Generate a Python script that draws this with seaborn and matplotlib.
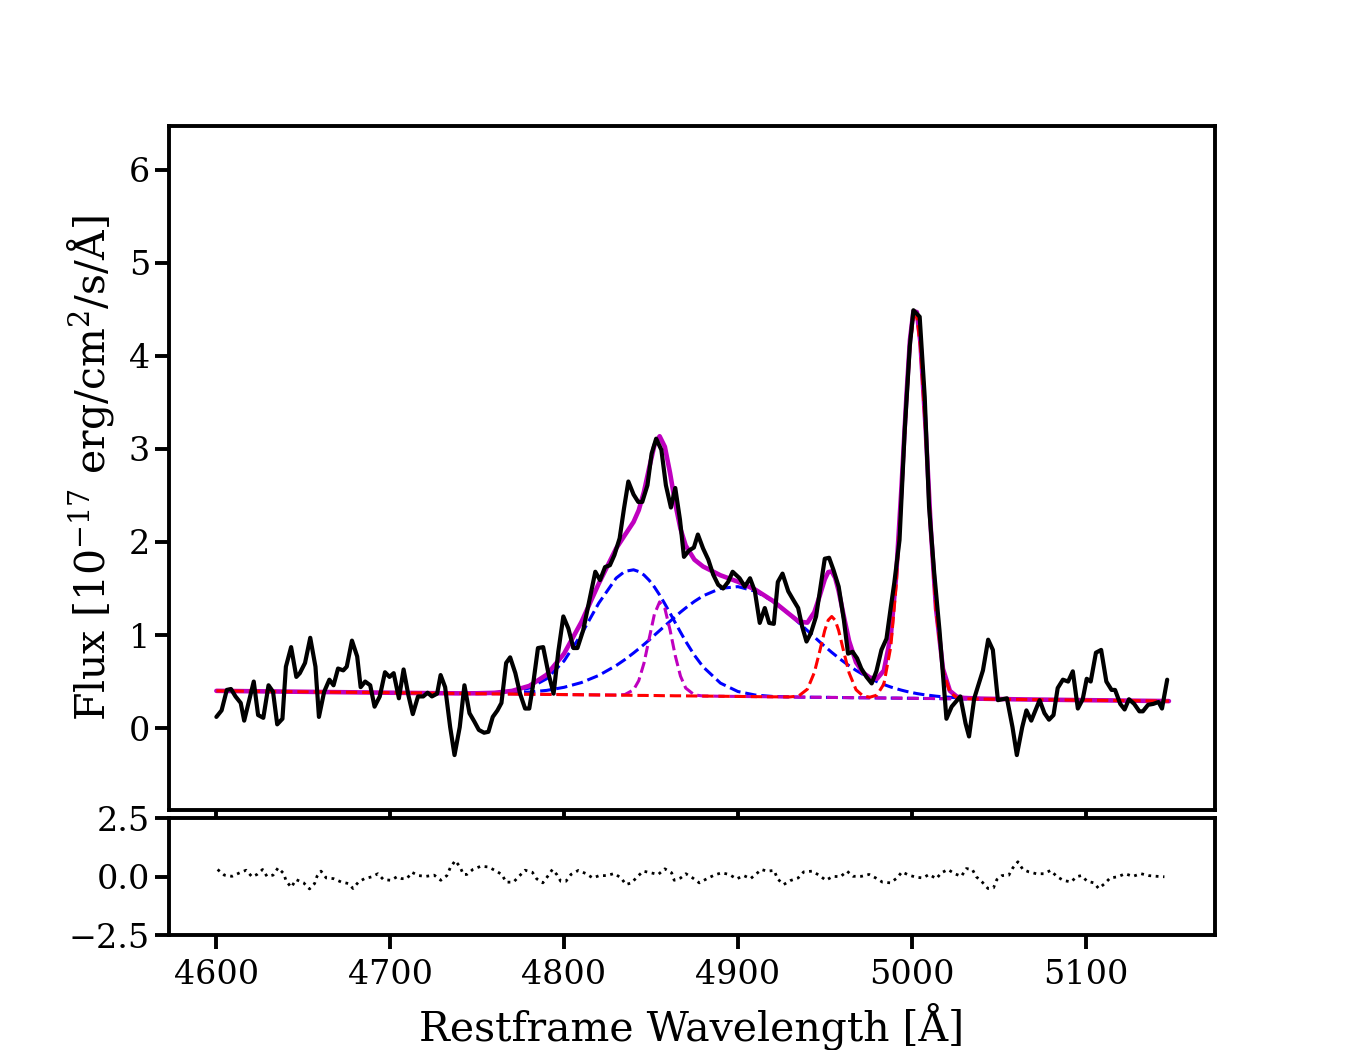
import numpy as np
import pandas as pd
import matplotlib
matplotlib.use("Agg")
import matplotlib.pyplot as plt
import seaborn as sns

wave = [4600, 4603, 4606, 4608.4, 4611, 4614, 4616, 4621.5, 4624, 4627, 4630, 4632.6, 4635, 4638,
        4640, 4643, 4646, 4648, 4651, 4654, 4657, 4659, 4662, 4665, 4667.4, 4670, 4673, 4675,
        4678, 4681, 4683, 4685.6, 4688.5, 4691, 4694, 4697, 4699.6, 4702, 4705, 4707.7, 4710.5,
        4713, 4716, 4719, 4721.5, 4724, 4727, 4729, 4731.6, 4734.5, 4737, 4740, 4742.7, 4745.6,
        4748.4, 4751, 4754, 4756.5, 4759, 4761.7, 4764, 4766.7, 4769, 4772, 4774.7, 4777.6, 4780,
        4782, 4785, 4788, 4791, 4794, 4796.7, 4799.6, 4802.5, 4805.4, 4807.7, 4811, 4815, 4818,
        4820.7, 4823.6, 4826.4, 4829, 4832, 4834.5, 4837, 4840, 4842.7, 4845, 4848, 4850.4, 4853,
        4856, 4858.6, 4861.5, 4864, 4866.7, 4869, 4872, 4874.7, 4877, 4880, 4883, 4885.8, 4888.7,
        4891.5, 4894.4, 4897, 4901, 4904, 4907, 4909.8, 4912.6, 4915.5, 4918, 4920.7, 4923,
        4925.7, 4929, 4931.8, 4934.7, 4937, 4939.5, 4942, 4945, 4948, 4950, 4952.5, 4955, 4958,
        4961, 4963.4, 4966, 4968.6, 4971, 4974, 4977, 4979.7, 4982.6, 4985.5, 4988, 4990, 4993,
        4996, 4998.9, 5001, 5004.6, 5007.5, 5010, 5013, 5016, 5020, 5023, 5028, 5031, 5033, 5036,
        5041, 5044, 5046.7, 5049.6, 5054.8, 5058, 5060.5, 5063.6, 5066, 5068.8, 5073.6, 5076.4,
        5079, 5081.6, 5084, 5087, 5090, 5092.7, 5095.6, 5098.4, 5100.7, 5103, 5106, 5109, 5112,
        5115, 5117, 5120, 5122.5, 5125, 5128, 5131, 5133, 5136, 5139, 5142, 5144, 5147]
flux = [0.12, 0.19, 0.41, 0.42, 0.34, 0.27, 0.08, 0.50, 0.14, 0.11, 0.46, 0.39, 0.04, 0.10,
        0.66, 0.87, 0.55, 0.59, 0.70, 0.97, 0.66, 0.12, 0.39, 0.52, 0.46, 0.64, 0.62, 0.66,
        0.94, 0.77, 0.44, 0.50, 0.46, 0.23, 0.34, 0.60, 0.55, 0.59, 0.32, 0.63, 0.35,
        0.15, 0.34, 0.34, 0.38, 0.34, 0.37, 0.57, 0.44, 0.01, -0.29, 0.01, 0.46, 0.16,
        0.07, -0.02, -0.05, -0.04, 0.12, 0.19, 0.27, 0.70, 0.76, 0.59, 0.37, 0.21, 0.21,
        0.44, 0.86, 0.87, 0.59, 0.37, 0.82, 1.20, 1.07, 0.86, 0.86, 1.05, 1.41, 1.68,
        1.59, 1.73, 1.75, 1.86, 2.04, 2.36, 2.65, 2.51, 2.43, 2.43, 2.61, 2.95, 3.11,
        2.99, 2.61, 2.37, 2.58, 2.24, 1.84, 1.91, 1.94, 2.08, 1.93, 1.81, 1.65, 1.54,
        1.50, 1.57, 1.68, 1.61, 1.52, 1.61, 1.47, 1.13, 1.29, 1.13, 1.12, 1.57,
        1.66, 1.47, 1.38, 1.29, 1.09, 0.93, 1.02, 1.20, 1.57, 1.82, 1.83, 1.70, 1.52,
        1.16, 0.80, 0.82, 0.75, 0.64, 0.55, 0.48, 0.61, 0.84, 0.96, 1.30, 1.56, 2.02,
        3.20, 4.10, 4.49, 4.42, 3.56, 2.38, 1.66, 1.05, 0.10, 0.23, 0.34, 0.05, -0.09, 0.32,
        0.62, 0.95, 0.84, 0.30, 0.32, 0.01, -0.29, 0.01, 0.19, 0.08, 0.30, 0.16,
        0.09, 0.14, 0.43, 0.52, 0.50, 0.61, 0.21, 0.31, 0.53, 0.50, 0.81, 0.84, 0.50,
        0.41, 0.41, 0.26, 0.20, 0.31, 0.26, 0.18, 0.18, 0.25, 0.26, 0.28, 0.21, 0.52]

# fitted model components on a common wavelength grid
model_wave = [4600, 4650, 4700, 4720, 4740, 4750, 4760, 4770, 4780, 4790, 4800, 4810, 4820,
              4830, 4835, 4840, 4843, 4846, 4849, 4852, 4855, 4858, 4861, 4864, 4867, 4870,
              4875, 4880, 4890, 4900, 4910, 4920, 4930, 4935, 4940, 4944, 4947, 4950, 4952,
              4954, 4956, 4958, 4961, 4964, 4968, 4972, 4976, 4980, 4984, 4988, 4991, 4994,
              4997, 4999, 5001, 5003, 5005, 5008, 5011, 5014, 5018, 5022, 5026, 5030, 5040,
              5060, 5100, 5148]
model_total = [0.400, 0.390, 0.380, 0.376, 0.373, 0.374, 0.379, 0.399, 0.453, 0.573, 0.799,
               1.140, 1.553, 1.931, 2.074, 2.215, 2.342, 2.540, 2.798, 3.038, 3.136, 3.023,
               2.741, 2.412, 2.141, 1.961, 1.810, 1.736, 1.642, 1.573, 1.488, 1.369, 1.219,
               1.145, 1.133, 1.245, 1.415, 1.598, 1.676, 1.684, 1.614, 1.473, 1.198, 0.936,
               0.706, 0.595, 0.542, 0.529, 0.618, 0.996, 1.617, 2.542, 3.571, 4.170, 4.480,
               4.470, 4.150, 3.230, 2.144, 1.286, 0.637, 0.400, 0.338, 0.324, 0.316, 0.309,
               0.300, 0.290]
broad_hb1 = [0.400, 0.390, 0.380, 0.376, 0.372, 0.371, 0.374, 0.388, 0.430, 0.530, 0.721,
             1.009, 1.343, 1.612, 1.684, 1.701, 1.682, 1.645, 1.588, 1.516, 1.430, 1.335,
             1.235, 1.132, 1.031, 0.932, 0.783, 0.658, 0.483, 0.393, 0.355, 0.340, 0.335,
             0.333, 0.332, 0.331, 0.331, 0.330, 0.330, 0.329, 0.329, 0.328, 0.328, 0.327,
             0.326, 0.326, 0.325, 0.324, 0.323, 0.322, 0.322, 0.321, 0.321, 0.320, 0.320,
             0.319, 0.319, 0.318, 0.318, 0.317, 0.316, 0.316, 0.315, 0.314, 0.312, 0.308,
             0.300, 0.290]
broad_hb2 = [0.400, 0.390, 0.380, 0.376, 0.373, 0.372, 0.373, 0.377, 0.387, 0.405, 0.438,
             0.489, 0.566, 0.672, 0.736, 0.807, 0.852, 0.899, 0.947, 0.998, 1.048, 1.098,
             1.148, 1.197, 1.246, 1.291, 1.361, 1.421, 1.501, 1.520, 1.471, 1.365, 1.217,
             1.133, 1.048, 0.979, 0.928, 0.878, 0.846, 0.814, 0.784, 0.753, 0.711, 0.670,
             0.620, 0.576, 0.535, 0.499, 0.468, 0.441, 0.424, 0.408, 0.394, 0.386, 0.378,
             0.371, 0.365, 0.356, 0.350, 0.343, 0.336, 0.331, 0.326, 0.323, 0.316, 0.309,
             0.300, 0.290]
narrow_hb = [0.400, 0.390, 0.380, 0.376, 0.372, 0.370, 0.368, 0.366, 0.364, 0.362, 0.360,
             0.358, 0.356, 0.355, 0.360, 0.411, 0.510, 0.698, 0.963, 1.224, 1.356, 1.286,
             1.054, 0.777, 0.558, 0.430, 0.356, 0.345, 0.342, 0.340, 0.338, 0.336, 0.334,
             0.333, 0.332, 0.331, 0.331, 0.330, 0.330, 0.329, 0.329, 0.328, 0.328, 0.327,
             0.326, 0.326, 0.325, 0.324, 0.323, 0.322, 0.322, 0.321, 0.321, 0.320, 0.320,
             0.319, 0.319, 0.318, 0.318, 0.317, 0.316, 0.316, 0.315, 0.314, 0.312, 0.308,
             0.300, 0.290]
cont_oiii = [0.400, 0.390, 0.380, 0.376, 0.372, 0.370, 0.368, 0.366, 0.364, 0.362, 0.360,
             0.358, 0.356, 0.354, 0.353, 0.352, 0.351, 0.351, 0.350, 0.350, 0.349, 0.348,
             0.348, 0.347, 0.347, 0.346, 0.345, 0.344, 0.342, 0.340, 0.338, 0.336, 0.335,
             0.345, 0.418, 0.597, 0.818, 1.050, 1.160, 1.199, 1.159, 1.048, 0.815, 0.593,
             0.412, 0.345, 0.332, 0.354, 0.473, 0.877, 1.515, 2.455, 3.498, 4.100, 4.420,
             4.420, 4.100, 3.190, 2.112, 1.260, 0.617, 0.385, 0.326, 0.315, 0.312, 0.308,
             0.300, 0.290]

# residuals (model - data)
res_wave = [4600.7, 4604.6, 4609.0, 4613.4, 4617.1, 4620.5, 4623.4, 4626.6, 4629.1, 4632.6,
            4635.5, 4638.7, 4640.2, 4643.1, 4645.8, 4650.2, 4653.6, 4656.5, 4657.9, 4660.2,
            4663.2, 4667.4, 4671.7, 4676.0, 4678.6, 4681.8, 4685.2, 4689.5, 4692.9, 4696.1,
            4700.4, 4703.9, 4706.7, 4709.6, 4712.5, 4716.3, 4720.7, 4725.3, 4729.1, 4732.6,
            4734.5, 4737.4, 4740.2, 4742.1, 4744.1, 4747.5, 4752.1, 4756.5, 4760.3, 4764.2,
            4766.7, 4770.9, 4774.1, 4777.6, 4781.8, 4784.3, 4787.8, 4790.4, 4793.3, 4795.8,
            4798.1, 4801.1, 4804.0, 4808.2, 4812.5, 4816.5, 4820.3, 4824.5, 4828.9, 4832.8,
            4835.6, 4838.9, 4842.1, 4845.6, 4849.8, 4854.2, 4858.0, 4861.9, 4863.4, 4867.1,
            4870.1, 4874.0, 4877.8, 4882.0, 4886.4, 4890.6, 4895.0, 4899.3, 4903.4, 4907.3,
            4910.7, 4913.6, 4916.8, 4920.9, 4922.8, 4926.4, 4930.3, 4934.7, 4937.9, 4942.7,
            4946.7, 4950.6, 4954.8, 4959.0, 4962.8, 4966.3, 4971.1, 4975.5, 4979.3, 4983.2,
            4987.8, 4991.6, 4994.4, 4998.3, 5002.7, 5006.5, 5010.0, 5014.2, 5017.1, 5020.9,
            5024.7, 5028.6, 5031.4, 5034.9, 5037.2, 5040.6, 5043.9, 5047.1, 5049.0, 5051.9,
            5055.9, 5058.2, 5061.1, 5064.0, 5067.4, 5071.7, 5075.9, 5079.9, 5083.7, 5087.4,
            5091.8, 5094.7, 5097.5, 5101.0, 5104.8, 5107.6, 5110.9, 5114.2, 5118.6, 5122.8,
            5127.2, 5132.0, 5136.4, 5141.0, 5145.4]
resid = [0.30, 0.06, 0.01, 0.16, 0.27, -0.01, 0.09, 0.30, 0.01, 0.06,
         0.37, 0.13, -0.20, -0.46, -0.13, -0.27, -0.53, -0.30, 0.01, 0.23,
         -0.06, -0.09, -0.23, -0.30, -0.51, -0.23, -0.09, -0.01, 0.12, -0.13,
         -0.16, -0.01, -0.09, -0.09, 0.18, 0.04, 0.01, 0.06, -0.16, 0.04,
         0.37, 0.68, 0.41, 0.09, 0.09, 0.30, 0.44, 0.41, 0.26, 0.09,
         -0.24, -0.24, 0.01, 0.27, 0.18, -0.10, -0.27, -0.01, 0.30, 0.09,
         -0.20, -0.20, 0.09, 0.26, 0.13, -0.06, 0.04, 0.04, 0.13, -0.06,
         -0.34, -0.27, -0.01, 0.23, 0.16, 0.09, 0.33, 0.16, -0.16, -0.06,
         0.12, -0.06, -0.27, -0.10, 0.06, 0.16, 0.09, -0.10, 0.04, -0.09,
         0.12, 0.30, 0.23, 0.26, -0.10, -0.34, -0.17, -0.06, 0.20, 0.23,
         0.06, -0.16, 0.01, -0.01, 0.23, 0.01, 0.01, 0.09, -0.06, -0.24,
         -0.27, -0.06, 0.20, 0.06, -0.03, -0.06, 0.09, -0.09, 0.16, 0.30,
         0.12, 0.01, 0.34, 0.30, -0.01, -0.24, -0.51, -0.48, -0.13, 0.04,
         0.06, 0.37, 0.63, 0.30, 0.20, 0.12, 0.12, 0.26, -0.01, -0.17,
         -0.23, -0.01, 0.04, -0.20, -0.27, -0.51, -0.31, -0.06, -0.01, 0.12,
         0.01, 0.12, 0.04, 0.01, -0.01]

spec = pd.DataFrame({"wave": wave, "flux": flux})
model = pd.DataFrame({"wave": model_wave, "total": model_total, "b1": broad_hb1,
                      "b2": broad_hb2, "nhb": narrow_hb, "cont": cont_oiii})
res = pd.DataFrame({"wave": res_wave, "resid": resid})

sns.set_style("ticks")
plt.rcParams["font.family"] = ["DejaVu Serif"]
plt.rcParams["mathtext.fontset"] = "dejavuserif"
for key in ["text.color", "axes.labelcolor", "xtick.color", "ytick.color", "axes.edgecolor"]:
    plt.rcParams[key] = "black"

fig = plt.figure(figsize=(13.5, 10.5), dpi=100)
ax = fig.add_axes([0.125, 0.2286, 0.775, 0.6514])
axr = fig.add_axes([0.125, 0.1095, 0.775, 0.1114], sharex=ax)

dash_kw = dict(linestyle="--", linewidth=2.2, estimator=None, sort=False)
sns.lineplot(data=model, x="wave", y="b1", color="b", ax=ax, **dash_kw)
sns.lineplot(data=model, x="wave", y="b2", color="b", ax=ax, **dash_kw)
sns.lineplot(data=model, x="wave", y="nhb", color="m", ax=ax, **dash_kw)
sns.lineplot(data=model, x="wave", y="total", color="m", linewidth=3.3,
             estimator=None, sort=False, ax=ax)
sns.lineplot(data=model, x="wave", y="cont", color="r", ax=ax, **dash_kw)
sns.lineplot(data=spec, x="wave", y="flux", color="k", linewidth=3.0,
             estimator=None, sort=False, ax=ax)

sns.lineplot(data=res, x="wave", y="resid", color="k", linestyle=":", linewidth=2.0,
             estimator=None, sort=False, ax=axr)

ax.set_xlim(4572.6, 5174.5)
ax.set_ylim(-0.88, 6.47)
ax.set_yticks([0, 1, 2, 3, 4, 5, 6])
ax.set_xlabel("")
ax.set_ylabel(r"Flux [10$^{-17}$ erg/cm$^2$/s/Å]", fontsize=29.5, labelpad=9)
ax.tick_params(labelbottom=False)

axr.set_ylim(-2.5, 2.5)
axr.set_yticks([-2.5, 0.0, 2.5])
axr.set_yticklabels(["\u22122.5", "0.0", "2.5"])
axr.set_xticks([4600, 4700, 4800, 4900, 5000, 5100])
axr.set_ylabel("")
axr.set_xlabel("Restframe Wavelength [Å]", fontsize=29.5, labelpad=8)

for a in (ax, axr):
    a.tick_params(direction="out", length=10, width=2.8, labelsize=24)
    for s in a.spines.values():
        s.set_linewidth(2.8)
        s.set_visible(True)
axr.tick_params(axis="x", pad=7.5)

fig.savefig("out.png", dpi=100)
